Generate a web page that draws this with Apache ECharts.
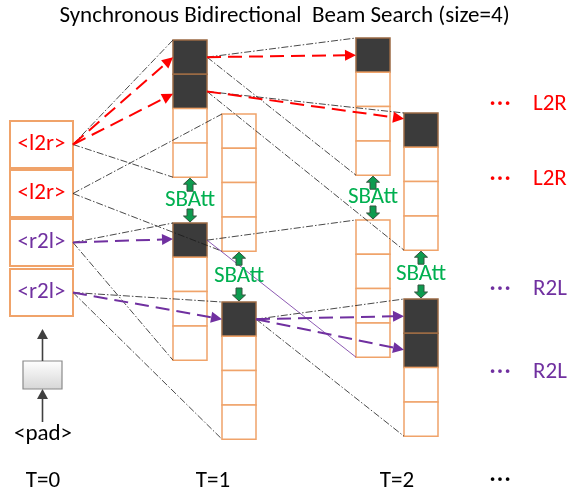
<!DOCTYPE html>
<html>
<head>
<meta charset="utf-8">
<script src="https://cdn.jsdelivr.net/npm/echarts@6/dist/echarts.min.js"></script>
<style>
  html, body { margin: 0; padding: 0; background: #fff; }
  #chart { width: 569px; height: 494px; }
</style>
</head>
<body>
<div id="chart"></div>
<script>
const titleText = 'Synchronous Bidirectional  Beam Search (size=4)';

// time steps along the bottom
const stepLabels = ['T=0', 'T=1', 'T=2', '…'];
const stepX = [43, 213, 397, 500];

// start tokens at T=0
const sourceTokens = ['<l2r>', '<l2r>', '<r2l>', '<r2l>'];
const sourceDirs = ['l2r', 'l2r', 'r2l', 'r2l'];
const sourceTop = [121, 170, 219, 269];

// beam candidate columns (4 cells each) and the selected cells
const colX = [173, 222, 173, 222, 356, 404, 356, 404];
const colTop = [40, 114, 223, 302, 38, 113, 220, 299];
const colSelected = [[0, 1], [], [0], [0], [0], [0], [], [0, 1]];

// expansions: [from, fromIndex, fromCell, toCol, bottomLineDir]
const expansions = [
  ['src', 0, 0, 0, null], ['src', 1, 0, 1, null],
  ['src', 2, 0, 2, null], ['src', 3, 0, 3, null],
  ['col', 0, 0, 4, null], ['col', 0, 1, 5, null],
  ['col', 2, 0, 6, 'r2l'], ['col', 3, 0, 7, null]
];

// kept hypotheses: [from, fromIndex, fromCell, toCol, toCellPos, dir]
const picks = [
  ['src', 0, 0, 0, 0.5, 'l2r'], ['src', 0, 0, 0, 1.57, 'l2r'],
  ['col', 0, 0, 4, 0.5, 'l2r'], ['col', 0, 1, 5, 0.17, 'l2r'],
  ['src', 2, 0, 2, 0.47, 'r2l'], ['src', 3, 0, 3, 0.5, 'r2l'],
  ['col', 3, 0, 7, 0.5, 'r2l'], ['col', 3, 0, 7, 1.48, 'r2l']
];

// SBAtt between upper (l2r) and lower (r2l) columns
const sbattPairs = [[0, 2], [1, 3], [4, 6], [5, 7]];

// right side direction labels
const sideLabels = ['L2R', 'L2R', 'R2L', 'R2L'];
const sideDirs = ['l2r', 'l2r', 'r2l', 'r2l'];
const sideY = [104, 179, 289, 372];

const CELL_W = 34, CELL_H = 34.3;
const SRC_X = 10, SRC_W = 63, SRC_H = 47;
const FONT = 'Carlito, Lato, sans-serif';
const FS = 23;
const DIR_COLOR = { l2r: '#ff0000', r2l: '#7030a0' };
const ORANGE = '#f0a36a';
const GREEN = '#00b050';

const chart = echarts.init(document.getElementById('chart'));

function fromPoint(from, idx, cell) {
  if (from === 'src') return [SRC_X + SRC_W, sourceTop[idx] + SRC_H / 2];
  return [colX[idx] + CELL_W, colTop[idx] + (cell + 0.5) * CELL_H];
}

function textEl(text, p, color, size, align) {
  return {
    type: 'text',
    style: {
      text: text, x: p[0], y: p[1], fill: color,
      font: size + 'px ' + FONT,
      align: align || 'center', verticalAlign: 'middle'
    }
  };
}

function arrowEls(a, b, color, dash, width, headLen, headHalf) {
  const dx = b[0] - a[0], dy = b[1] - a[1];
  const len = Math.hypot(dx, dy);
  const ux = dx / len, uy = dy / len;
  const bx = b[0] - ux * headLen, by = b[1] - uy * headLen;
  return [
    { type: 'line', shape: { x1: a[0], y1: a[1], x2: bx, y2: by },
      style: { stroke: color, lineWidth: width, lineDash: dash } },
    { type: 'polygon',
      shape: { points: [[b[0], b[1]], [bx - uy * headHalf, by + ux * headHalf], [bx + uy * headHalf, by - ux * headHalf]] },
      style: { fill: color } }
  ];
}

function blockArrow(cx, tipY, d) {
  const hl = 6, hw = 6.5, sw = 3, total = 13;
  return {
    type: 'polygon',
    shape: { points: [
      [cx, tipY], [cx + hw, tipY + d * hl], [cx + sw, tipY + d * hl], [cx + sw, tipY + d * total],
      [cx - sw, tipY + d * total], [cx - sw, tipY + d * hl], [cx - hw, tipY + d * hl]
    ] },
    style: { fill: '#0d9b4f', stroke: '#35533f', lineWidth: 1 }
  };
}

function renderColumn(params, api) {
  const c = params.dataIndex;
  const children = [];
  for (let k = 0; k < 4; k++) {
    const p0 = api.coord([colX[c], colTop[c] + k * CELL_H]);
    const p1 = api.coord([colX[c] + CELL_W, colTop[c] + (k + 1) * CELL_H]);
    const sel = colSelected[c].indexOf(k) >= 0;
    children.push({
      type: 'rect',
      shape: { x: p0[0], y: p0[1], width: p1[0] - p0[0], height: p1[1] - p0[1] },
      style: { fill: sel ? '#3b3b3b' : '#fff', stroke: sel ? '#9a6a44' : ORANGE, lineWidth: 1.5 }
    });
  }
  return { type: 'group', children: children };
}

function renderSource(params, api) {
  const i = params.dataIndex;
  const p0 = api.coord([SRC_X, sourceTop[i]]);
  const p1 = api.coord([SRC_X + SRC_W, sourceTop[i] + SRC_H]);
  return {
    type: 'group',
    children: [
      { type: 'rect', shape: { x: p0[0], y: p0[1], width: p1[0] - p0[0], height: p1[1] - p0[1] },
        style: { fill: '#fff', stroke: ORANGE, lineWidth: 2 } },
      textEl(sourceTokens[i], [(p0[0] + p1[0]) / 2, (p0[1] + p1[1]) / 2], DIR_COLOR[sourceDirs[i]], FS)
    ]
  };
}

function renderExpansion(params, api) {
  const e = expansions[params.dataIndex];
  const a = api.coord(fromPoint(e[0], e[1], e[2]));
  const t = e[3];
  const top = api.coord([colX[t], colTop[t]]);
  const bot = api.coord([colX[t], colTop[t] + 4 * CELL_H]);
  const dashDot = { stroke: '#1a1a1a', lineWidth: 0.8, lineDash: [7, 2, 1.5, 2] };
  const botStyle = e[4] ? { stroke: DIR_COLOR[e[4]], lineWidth: 0.8 } : dashDot;
  return {
    type: 'group',
    children: [
      { type: 'line', shape: { x1: a[0], y1: a[1], x2: top[0], y2: top[1] }, style: dashDot },
      { type: 'line', shape: { x1: a[0], y1: a[1], x2: bot[0], y2: bot[1] }, style: botStyle }
    ]
  };
}

function renderPick(params, api) {
  const p = picks[params.dataIndex];
  const a = api.coord(fromPoint(p[0], p[1], p[2]));
  const b = api.coord([colX[p[3]], colTop[p[3]] + p[4] * CELL_H]);
  return { type: 'group', children: arrowEls(a, b, DIR_COLOR[p[5]], [14, 7], 2, 11, 5.5) };
}

function renderSbatt(params, api) {
  const pr = sbattPairs[params.dataIndex];
  const u = pr[0], l = pr[1];
  const upBot = api.coord([colX[u] + CELL_W / 2, colTop[u] + 4 * CELL_H]);
  const lowTop = api.coord([colX[l] + CELL_W / 2, colTop[l]]);
  const cx = upBot[0];
  return {
    type: 'group',
    children: [
      blockArrow(cx, upBot[1] + 1, 1),
      blockArrow(cx, lowTop[1] - 1, -1),
      textEl('SBAtt', [cx, (upBot[1] + lowTop[1]) / 2], GREEN, FS)
    ]
  };
}

function renderPad(params, api) {
  const b0 = api.coord([23, 361]);
  const b1 = api.coord([62, 389]);
  const cx = (b0[0] + b1[0]) / 2;
  const inA = api.coord([43, 422]);
  const outB = api.coord([43, 329]);
  const dark = '#404040';
  return {
    type: 'group',
    children: [
      { type: 'rect', shape: { x: b0[0], y: b0[1], width: b1[0] - b0[0], height: b1[1] - b0[1] },
        style: {
          fill: new echarts.graphic.LinearGradient(0, 0, 0, 1, [
            { offset: 0, color: '#ffffff' }, { offset: 1, color: '#d6d6d6' }
          ]),
          stroke: '#8a8a8a', lineWidth: 1.2
        } }
    ].concat(arrowEls([cx, inA[1]], [cx, b1[1]], dark, null, 1.6, 10, 5.5))
     .concat(arrowEls([cx, b0[1]], [cx, outB[1]], dark, null, 1.6, 10, 5.5))
     .concat([textEl('<pad>', api.coord([43, 434]), '#000', FS)])
  };
}

function renderLabels(params, api) {
  const children = [];
  stepLabels.forEach((s, i) => {
    const isDots = s === '…';
    const p = api.coord([stepX[i], isDots ? 473 : 481]);
    children.push(textEl(s, p, '#000', isDots ? 30 : FS));
  });
  sideLabels.forEach((s, i) => {
    const c = DIR_COLOR[sideDirs[i]];
    children.push(textEl('…', api.coord([500, sideY[i] - 7]), c, 30));
    children.push(textEl(s, api.coord([533, sideY[i]]), c, FS, 'left'));
  });
  return { type: 'group', children: children };
}

const base = { type: 'custom', coordinateSystem: 'cartesian2d', silent: true, animation: false };

chart.setOption({
  backgroundColor: '#fff',
  animation: false,
  title: {
    text: titleText,
    left: 'center',
    top: 0,
    textStyle: { fontFamily: FONT, fontSize: FS, fontWeight: 'normal', color: '#000' }
  },
  grid: { left: 0, right: 0, top: 0, bottom: 0 },
  xAxis: { type: 'value', min: 0, max: 569, show: false },
  yAxis: { type: 'value', min: 0, max: 494, inverse: true, show: false },
  series: [
    Object.assign({}, base, { name: 'columns', z: 1, data: colX.map((x, i) => [x, colTop[i]]), renderItem: renderColumn }),
    Object.assign({}, base, { name: 'sources', z: 1, data: sourceTop.map(y => [SRC_X, y]), renderItem: renderSource }),
    Object.assign({}, base, { name: 'expansions', z: 2, data: expansions.map(e => [0, 0]), renderItem: renderExpansion }),
    Object.assign({}, base, { name: 'picks', z: 3, data: picks.map(p => [0, 0]), renderItem: renderPick }),
    Object.assign({}, base, { name: 'sbatt', z: 4, data: sbattPairs.map(p => [0, 0]), renderItem: renderSbatt }),
    Object.assign({}, base, { name: 'pad', z: 4, data: [[43, 375]], renderItem: renderPad }),
    Object.assign({}, base, { name: 'labels', z: 5, data: [[0, 0]], renderItem: renderLabels })
  ]
});

window.addEventListener('resize', () => chart.resize());
</script>
</body>
</html>
